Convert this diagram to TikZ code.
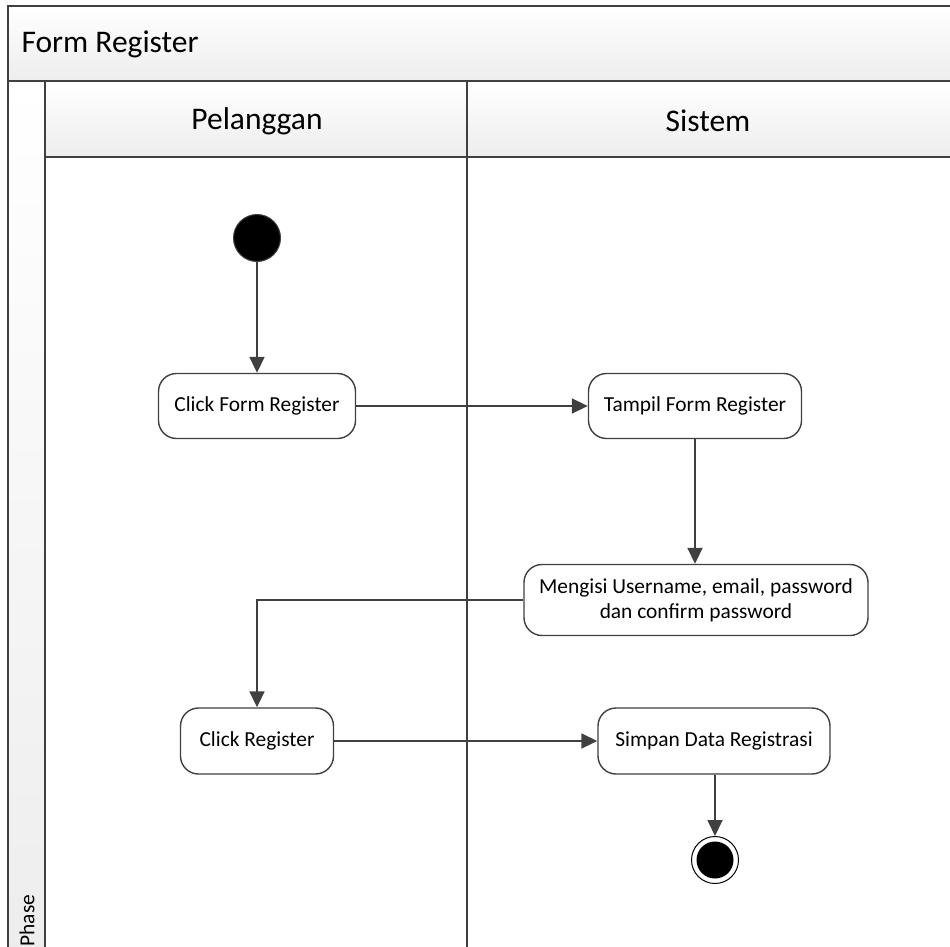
\documentclass[tikz,border=0pt]{standalone}
\usepackage{fontspec}
\setmainfont{Carlito}
\usetikzlibrary{arrows.meta}
\definecolor{lineg}{HTML}{404040}
\tikzset{
  x=1pt, y=-1pt,
  frame/.style={draw=lineg, line width=1.8pt},
  band/.style={frame, top color=white, bottom color=black!7},
  act/.style={draw=lineg, line width=1.4pt, rounded corners=18pt, fill=white,
    font=\fontsize{21.4}{25}\selectfont, align=center, inner sep=0pt},
  flow/.style={draw=lineg, line width=1.8pt, -{Triangle[length=16pt,width=15pt]}},
  hdr/.style={font=\fontsize{31.5}{36}\selectfont}
}
\begin{document}
\begin{tikzpicture}
\useasboundingbox (0,0) rectangle (950,947);
% pool and lanes
\path[band] (8,6) rectangle (960,81);
\path[band] (8,81) rectangle (45,960);
\path[band] (45,81) rectangle (467,157);
\path[band] (467,81) rectangle (960,157);
\draw[frame] (45,157) rectangle (467,960);
\draw[frame] (467,157) rectangle (960,960);
\node[anchor=west, hdr] (title) at (18,44) {Form Register};
\node[hdr] (lane1) at (257,121) {Pelanggan};
\node[hdr] (lane2) at (708,121) {Sistem};
\node[rotate=90, anchor=west, font=\fontsize{21.4}{25}\selectfont] (phase) at (27,950) {Phase};
% activities
\node[circle, fill=black, draw=lineg, line width=1pt, minimum size=47pt, inner sep=0pt] (start) at (257,238) {};
\node[act, minimum width=197pt, minimum height=65pt] (clickform) at (257,406) {Click Form Register};
\node[act, minimum width=213pt, minimum height=65pt] (tampil) at (695,406) {Tampil Form Register};
\node[act, minimum width=344pt, minimum height=71pt] (isi) at (696,600) {Mengisi Username, email, password\\dan confirm password};
\node[act, minimum width=153pt, minimum height=66pt] (clickreg) at (257,741) {Click Register};
\node[act, minimum width=232pt, minimum height=66pt] (simpan) at (714,741) {Simpan Data Registrasi};
\node[circle, draw=black, line width=1pt, fill=white, minimum size=47pt, inner sep=0pt] (end) at (715,860) {};
\node[circle, fill=black, minimum size=37pt, inner sep=0pt] (endin) at (end.center) {};
% transitions
\draw[flow] (start) -- (clickform);
\draw[flow] (clickform) -- (tampil);
\draw[flow] (tampil.south) -- (tampil.south |- isi.north);
\coordinate (bend) at (clickreg.north |- isi.west);
\draw[flow] (isi.west) -- (bend) -- (clickreg.north);
\draw[flow] (clickreg) -- (simpan);
\draw[flow] (simpan.south -| end.north) -- (end.north);
\end{tikzpicture}
\end{document}
